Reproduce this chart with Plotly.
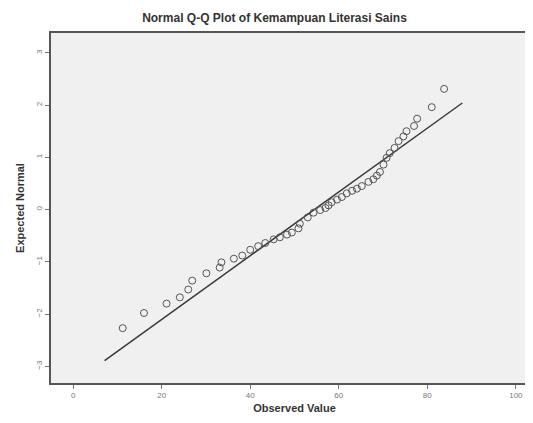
import plotly.graph_objects as go

observed = [11.2, 16.0, 21.1, 24.1, 26.0, 26.9, 30.1, 33.1, 33.5, 36.3,
            38.2, 40.0, 41.8, 43.4, 45.3, 46.7, 48.3, 49.4, 50.9, 51.2,
            53.0, 54.3, 55.8, 57.0, 57.7, 58.4, 59.6, 60.7, 61.8, 63.0,
            64.1, 65.2, 66.7, 67.8, 68.6, 69.3, 70.1, 70.8, 71.5, 72.6,
            73.5, 74.6, 75.3, 77.0, 77.7, 81.0, 83.8]
expected = [-2.27, -1.98, -1.80, -1.68, -1.53, -1.36, -1.22, -1.11, -1.01, -0.94,
            -0.88, -0.77, -0.70, -0.64, -0.57, -0.53, -0.48, -0.44, -0.36, -0.27,
            -0.15, -0.06, -0.01, 0.03, 0.08, 0.14, 0.19, 0.24, 0.31, 0.36,
            0.40, 0.45, 0.53, 0.58, 0.65, 0.72, 0.86, 0.99, 1.08, 1.18,
            1.31, 1.40, 1.50, 1.60, 1.74, 1.96, 2.31]

# Reference (normal) line end points
ref_x = [7.1, 87.9]
ref_y = [-2.89, 2.04]

x_ticks = [0, 20, 40, 60, 80, 100]
y_ticks = [-3, -2, -1, 0, 1, 2, 3]

fig = go.Figure()
fig.add_trace(go.Scatter(x=ref_x, y=ref_y, mode="lines",
                         line=dict(color="#3a3a3a", width=1.5),
                         hoverinfo="skip", showlegend=False))
fig.add_trace(go.Scatter(x=observed, y=expected, mode="markers",
                         marker=dict(symbol="circle-open", size=7,
                                     color="#555555", line=dict(width=1)),
                         showlegend=False))

fig.update_layout(
    width=533, height=423,
    margin=dict(l=43, r=3, t=25, b=48),
    paper_bgcolor="white", plot_bgcolor="#F0F0F0",
    font=dict(family="Liberation Sans, Arial, sans-serif", color="#333333"),
    title=dict(text="<b>Normal Q-Q Plot of Kemampuan Literasi Sains</b>",
               x=0.5, xanchor="center", y=0.978, yanchor="middle",
               font=dict(size=12, color="#333333")),
)
fig.update_xaxes(range=[-5, 105], tickvals=x_ticks, showgrid=False, zeroline=False,
                 showline=True, linecolor="#555555", linewidth=1.5, mirror=True,
                 ticks="outside", ticklen=4, tickcolor="#777777",
                 tickfont=dict(size=8, color="#777777"),
                 title=dict(text="<b>Observed Value</b>", font=dict(size=11, color="#333333"),
                            standoff=5))
fig.update_yaxes(range=[-3.32, 3.38], tickvals=y_ticks, showgrid=False, zeroline=False,
                 showline=True, linecolor="#555555", linewidth=1.5, mirror=False,
                 ticks="outside", ticklen=4, tickcolor="#777777", tickangle=-90,
                 tickfont=dict(size=8, color="#777777"),
                 title=dict(text="<b>Expected Normal</b>", font=dict(size=11, color="#333333"),
                            standoff=8))

fig.write_html("out.html")
